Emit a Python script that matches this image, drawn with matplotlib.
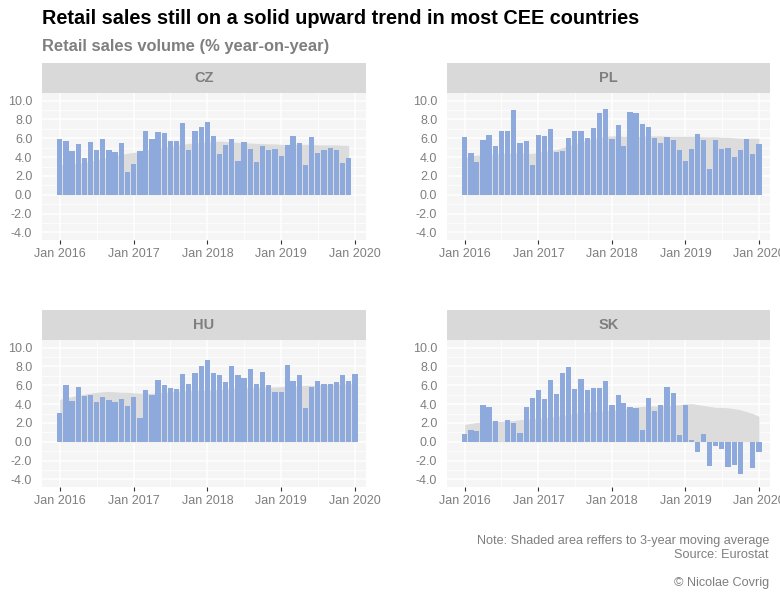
import pandas as pd
import matplotlib.pyplot as plt
import matplotlib.dates as mdates
from matplotlib.ticker import MultipleLocator

plt.rcParams['font.family'] = ['Liberation Sans', 'DejaVu Sans']

# monthly year-on-year retail sales volume, Jan 2016 onwards
countries = ["CZ", "PL", "HU", "SK"]

cz = [5.9, 5.7, 4.6, 5.35, 3.95, 5.55, 4.8, 5.9, 4.8, 4.5, 5.45, 2.45,
      3.3, 4.6, 6.8, 5.95, 6.7, 6.6, 5.75, 5.75, 7.6, 4.8, 6.8, 7.2,
      7.75, 6.2, 4.35, 5.3, 5.95, 3.6, 5.65, 4.9, 3.5, 5.2, 4.7, 4.9,
      4.15, 5.3, 6.25, 5.5, 3.2, 6.15, 4.45, 4.8, 5.0, 4.7, 3.4, 3.85]
pl = [6.1, 4.4, 3.45, 5.8, 6.3, 5.15, 6.75, 6.75, 9.0, 5.45, 5.7, 3.2,
      6.3, 6.2, 6.95, 4.5, 4.6, 6.0, 6.75, 6.75, 6.0, 7.05, 8.7, 9.1,
      5.9, 7.4, 5.15, 8.8, 8.7, 7.5, 7.2, 6.0, 5.45, 6.1, 5.8, 4.8,
      3.55, 4.9, 6.4, 5.8, 2.7, 5.8, 4.9, 5.0, 4.05, 4.7, 5.9, 4.3,
      5.35]
hu = [3.1, 6.0, 4.3, 5.8, 4.9, 5.0, 4.2, 4.7, 4.4, 4.2, 4.5, 3.75,
      4.8, 2.5, 5.45, 5.0, 6.6, 6.0, 5.7, 5.55, 7.15, 6.1, 7.35, 8.0,
      8.65, 7.35, 7.05, 6.3, 8.0, 7.05, 6.75, 7.7, 6.1, 7.45, 6.0, 5.25,
      5.25, 8.2, 6.5, 7.05, 3.55, 5.8, 6.5, 6.1, 6.1, 6.3, 7.05, 6.5,
      7.15]
sk = [0.8, 1.2, 1.1, 3.85, 3.65, 2.25, 0.0, 2.35, 1.95, 0.9, 3.65, 4.6,
      5.45, 4.5, 6.6, 5.1, 7.25, 7.9, 5.55, 6.7, 5.45, 5.75, 5.75, 6.5,
      3.95, 5.0, 4.15, 3.65, 3.55, 1.3, 4.6, 3.3, 3.85, 5.85, 5.2, 0.7,
      3.85, 0.15, -1.1, 0.8, -2.6, -0.45, -0.8, -2.7, -2.5, -3.45, 0.0, -2.8,
      -1.1]

# 3-year moving averages (shaded area)
cz_ma = [3.2, 3.25, 3.3, 3.35, 3.4, 3.55, 3.7, 3.85, 4.0, 4.15, 4.3, 4.4,
         4.5, 4.6, 4.75, 4.85, 4.95, 5.05, 5.15, 5.25, 5.35, 5.45, 5.5, 5.55,
         5.6, 5.65, 5.7, 5.65, 5.6, 5.55, 5.5, 5.5, 5.45, 5.45, 5.4, 5.4,
         5.35, 5.35, 5.35, 5.35, 5.35, 5.35, 5.3, 5.3, 5.3, 5.3, 5.25, 5.25]
pl_ma = [4.0, 4.1, 4.2, 4.25, 4.3, 4.35, 4.4, 4.4, 4.45, 4.45, 4.4, 4.4,
         4.5, 4.6, 4.7, 4.8, 5.0, 5.2, 5.4, 5.6, 5.8, 6.0, 6.1, 6.2,
         6.25, 6.25, 6.2, 6.2, 6.2, 6.2, 6.25, 6.25, 6.25, 6.2, 6.2, 6.2,
         6.2, 6.2, 6.2, 6.15, 6.15, 6.15, 6.1, 6.1, 6.05, 6.0, 6.0, 6.0,
         6.0]
hu_ma = [4.5, 4.65, 4.8, 4.95, 5.05, 5.15, 5.25, 5.3, 5.35, 5.3, 5.25, 5.25,
         5.2, 5.15, 5.15, 5.15, 5.2, 5.25, 5.3, 5.35, 5.4, 5.4, 5.45, 5.45,
         5.45, 5.5, 5.55, 5.6, 5.65, 5.7, 5.7, 5.75, 5.75, 5.8, 5.8, 5.8,
         5.85, 5.9, 5.9, 5.95, 6.0, 6.0, 6.05, 6.05, 6.1, 6.1, 6.15, 6.15,
         6.2]
sk_ma = [1.85, 1.95, 2.05, 2.1, 2.15, 2.15, 2.15, 2.2, 2.25, 2.35, 2.4, 2.45,
         2.5, 2.55, 2.6, 2.7, 2.8, 2.9, 3.0, 3.1, 3.15, 3.2, 3.25, 3.3,
         3.35, 3.4, 3.45, 3.6, 3.7, 3.75, 3.8, 3.8, 3.8, 3.85, 3.85, 3.95,
         4.0, 4.05, 3.95, 3.85, 3.75, 3.65, 3.65, 3.6, 3.5, 3.4, 3.2, 3.0,
         2.7]

series = {"CZ": (cz, cz_ma), "PL": (pl, pl_ma), "HU": (hu, hu_ma), "SK": (sk, sk_ma)}

bar_col = "#8EA9DB"
ma_col = "#DCDCDC"
txt_col = "#7F7F7F"

W, H = 780, 600
fig = plt.figure(figsize=(W / 100, H / 100), dpi=100)

# panel boxes in pixels: (left, right, strip top, plot top, plot bottom)
boxes = {"CZ": (42, 366, 63, 93, 240), "PL": (447, 770, 63, 93, 240),
         "HU": (42, 366, 310, 340, 487), "SK": (447, 770, 310, 340, 487)}

for c in countries:
    vals, ma = series[c]
    dates = pd.date_range("2016-01-01", periods=len(vals), freq="MS")
    l, r, st, pt, pb = boxes[c]
    ax = fig.add_axes([l / W, 1 - pb / H, (r - l) / W, (pb - pt) / H])
    ax.set_facecolor("#F5F5F5")
    ax.fill_between(dates, 0, ma, color=ma_col, lw=0, zorder=2)
    ax.bar(dates, vals, width=26, color=bar_col, zorder=3)
    ax.set_xlim(pd.Timestamp("2015-10-05"), pd.Timestamp("2020-02-25"))
    ax.set_ylim(-4.8, 10.8)
    ax.yaxis.set_major_locator(MultipleLocator(2))
    ax.yaxis.set_minor_locator(MultipleLocator(1))
    ax.xaxis.set_major_locator(mdates.YearLocator())
    ax.xaxis.set_minor_locator(mdates.MonthLocator(bymonth=7))
    ax.xaxis.set_major_formatter(mdates.DateFormatter("%b %Y"))
    ax.yaxis.set_major_formatter(plt.FuncFormatter(lambda v, p: f"{v:.1f}"))
    ax.grid(which="major", color="white", lw=1.1, zorder=1)
    ax.grid(which="minor", color="white", lw=0.55, zorder=1)
    ax.set_axisbelow(True)
    for s in ax.spines.values():
        s.set_visible(False)
    ax.tick_params(axis="x", which="major", length=3, width=0.8, color="#333333",
                   labelsize=9, labelcolor=txt_col, pad=3)
    ax.tick_params(axis="x", which="minor", length=0)
    ax.tick_params(axis="y", which="both", length=0, labelsize=9, labelcolor=txt_col, pad=7)

    sx = fig.add_axes([l / W, 1 - pt / H, (r - l) / W, (pt - st) / H])
    sx.set_facecolor("#D9D9D9")
    sx.set_xticks([])
    sx.set_yticks([])
    for s in sx.spines.values():
        s.set_visible(False)
    sx.text(0.5, 0.5, c, ha="center", va="center", fontsize=10.5,
            fontweight="bold", color=txt_col, transform=sx.transAxes)

fig.text(42 / W, 1 - 19 / H, "Retail sales still on a solid upward trend in most CEE countries",
         ha="left", va="center", fontsize=14.3, fontweight="bold", color="black")
fig.text(42 / W, 1 - 46 / H, "Retail sales volume (% year-on-year)",
         ha="left", va="center", fontsize=11.9, fontweight="bold", color=txt_col)
fig.text(769 / W, 1 - 541 / H, "Note: Shaded area reffers to 3-year moving average",
         ha="right", va="center", fontsize=9.1, color=txt_col)
fig.text(769 / W, 1 - 555 / H, "Source: Eurostat",
         ha="right", va="center", fontsize=9.1, color=txt_col)
fig.text(769 / W, 1 - 583 / H, "© Nicolae Covrig",
         ha="right", va="center", fontsize=9.1, color=txt_col)

fig.savefig("out.png", dpi=100, facecolor="white")
